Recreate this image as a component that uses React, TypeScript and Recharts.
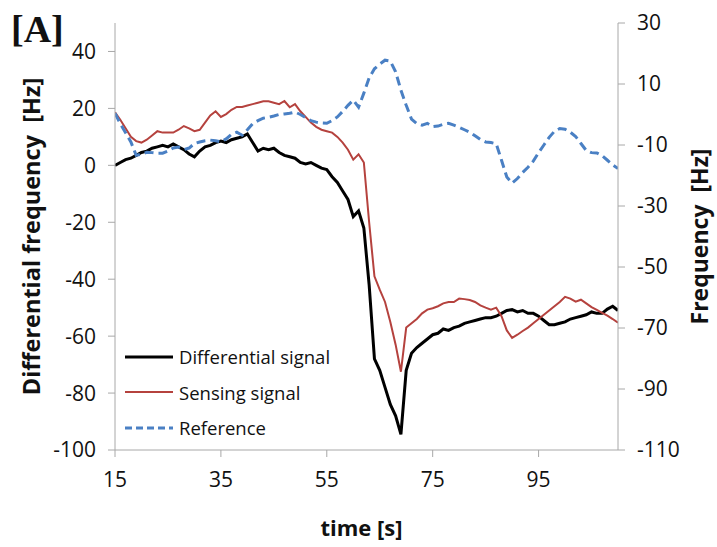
import React from "react";
import { LineChart, Line, XAxis, YAxis, Legend } from "recharts";

const times = [15,16,17,18,19,20,21,22,23,24,25,26,27,28,29,30,31,32,33,34,35,36,37,38,39,40,41,42,43,44,45,46,47,48,49,50,51,52,53,54,55,56,57,58,59,60,61,62,63,64,65,66,67,68,69,70,71,72,73,74,75,76,77,78,79,80,81,82,83,84,85,86,87,88,89,90,91,92,93,94,95,96,97,98,99,100,101,102,103,104,105,106,107,108,109,110];

const differential = [0,1,2,2.5,3.5,4.5,5,6,6.5,7,6.5,7.5,6.5,5.5,4,3,5,6.5,7,8,8.5,8,9,9.5,10,11,8,5,6,5.5,6,4.5,3.5,3,2.5,1,0.5,1,0,-1,-1.5,-4,-6,-9,-12,-18,-16,-22,-42,-68,-72,-78,-84,-88,-94.5,-72,-66,-64,-62.5,-61,-59.5,-59,-57.5,-58,-57,-56.5,-55.5,-55,-54.5,-54,-53.5,-53.5,-53,-52,-51,-50.7,-51.5,-51,-52,-52,-53,-54.5,-56,-56,-55.5,-55,-54,-53.5,-53,-52.5,-51.5,-52,-52,-50.5,-49.5,-51];

const sensing = [18.6,16,13,10,8.5,8,9,10.5,12,11.5,11.5,11.5,12.5,13.8,13,12,12.5,15,17.5,19,17,18,19.5,20.5,20.5,21,21.5,22,22.5,22.5,22,21.5,22.6,20.4,21.5,19,17,15,13.5,12.5,12,11.5,10,8,5.5,2,3.9,1,-20,-39,-43.7,-48,-55,-63,-72.5,-57,-55.5,-54,-52,-50.7,-50.2,-49.5,-48.5,-48,-48,-46.8,-47,-47.3,-48,-49.2,-50,-50.7,-50,-53,-58,-60.6,-59.5,-58.2,-57,-55.5,-54,-52.5,-51,-49.5,-48,-46.2,-46.8,-47.9,-47.2,-48.5,-49.8,-50.8,-51.8,-52.8,-54,-55.3];

const reference = [0.4,-3,-6,-9,-13.4,-13,-12.4,-12.5,-12.7,-12.7,-12,-11,-10.7,-11.5,-11,-9.5,-9,-8.6,-8.4,-8.6,-9,-8,-6.5,-5.8,-6.8,-5,-3,-2,-1.2,-0.9,-0.5,0,0.2,0.4,0.8,0,-1,-2,-2.5,-2.8,-2.9,-2,-0.8,1,3,4.7,2.4,7,12,15,16.5,17.8,17.5,14,8,3,-1.5,-3,-3.5,-2.9,-4,-3.8,-3.2,-2.9,-3.5,-4.2,-5,-5.8,-7,-8.2,-9,-9.2,-9.6,-15,-20.5,-22.5,-21,-19,-17.3,-15.3,-12.5,-10,-7.5,-5.5,-4.6,-4.8,-5.8,-7.2,-9.5,-11.8,-12.5,-12.6,-13.5,-15,-16.5,-17.7];

const xTicks = [15, 35, 55, 75, 95];
const leftTicks = [-100, -80, -60, -40, -20, 0, 20, 40];
const rightTicks = [-110, -90, -70, -50, -30, -10, 10, 30];

const seriesInfo = [
  { key: "diff", name: "Differential signal", color: "#000000", width: 3, dash: undefined as string | undefined },
  { key: "sens", name: "Sensing signal", color: "#b5423e", width: 2, dash: undefined as string | undefined },
  { key: "ref", name: "Reference", color: "#4a80c4", width: 3, dash: "9 5" },
];

const data = times.map((t, i) => ({
  t,
  diff: differential[i],
  sens: sensing[i],
  ref: reference[i],
}));

const FONT = "'Open Sans', sans-serif";
const AXIS_COLOR = "#a8a8a8";
const tickStyle = { fontFamily: FONT, fontSize: 21, fill: "#111" };

const LegendContent = () => (
  <div style={{ fontFamily: FONT, fontSize: 18.5, color: "#111", textAlign: "left" }}>
    {seriesInfo.map((s) => (
      <div key={s.key} style={{ display: "flex", alignItems: "center", height: 35.5 }}>
        <svg width={54} height={10}>
          <line x1={0} y1={5} x2={48} y2={5} stroke={s.color} strokeWidth={s.key === "sens" ? 2 : 3} strokeDasharray={s.dash ? "7 4" : undefined} />
        </svg>
        <span style={{ whiteSpace: "nowrap" }}>{s.name}</span>
      </div>
    ))}
  </div>
);

export default function App() {
  return (
    <div style={{ position: "absolute", left: 0, top: 0, width: 717, height: 547, background: "#fff" }}>
      <div
        style={{
          position: "absolute",
          left: 11,
          top: 10,
          fontFamily: "'Liberation Serif', serif",
          fontWeight: "bold",
          fontSize: 38,
          lineHeight: "38px",
          color: "#111",
          zIndex: 2,
        }}
      >
        [A]
      </div>
      <LineChart width={717} height={547} data={data} margin={{ top: 23, right: 0, bottom: 0, left: 0 }}>
        <XAxis
          dataKey="t"
          type="number"
          domain={[15, 110]}
          ticks={xTicks}
          allowDataOverflow
          height={97}
          stroke={AXIS_COLOR}
          tickSize={7}
          tickMargin={15}
          tick={tickStyle}
          label={({ viewBox }: any) => (
            <text
              x={viewBox.x + viewBox.width / 2 - 5}
              y={viewBox.y + 78}
              dy="0.35em"
              textAnchor="middle"
              style={{ fontFamily: FONT, fontSize: 22, fontWeight: "bold", fill: "#111" }}
            >
              time [s]
            </text>
          )}
        />
        <YAxis
          yAxisId="left"
          domain={[-100, 50]}
          ticks={leftTicks}
          width={115}
          stroke={AXIS_COLOR}
          tickSize={7}
          tickMargin={12}
          tick={tickStyle}
          label={({ viewBox }: any) => {
            const cx = viewBox.x + 32;
            const cy = viewBox.y + viewBox.height / 2;
            return (
              <text
                x={cx}
                y={cy}
                dy="0.35em"
                textAnchor="middle"
                transform={`rotate(-90 ${cx} ${cy})`}
                style={{ fontFamily: FONT, fontSize: 23.5, fontWeight: "bold", fill: "#111" }}
              >
                {"Differential frequency\u00a0\u00a0[Hz]"}
              </text>
            );
          }}
        />
        <YAxis
          yAxisId="right"
          orientation="right"
          domain={[-110, 30]}
          ticks={rightTicks}
          width={99}
          stroke={AXIS_COLOR}
          tickSize={7}
          tickMargin={12}
          tick={tickStyle}
          label={({ viewBox }: any) => {
            const cx = viewBox.x + 82;
            const cy = viewBox.y + viewBox.height / 2;
            return (
              <text
                x={cx}
                y={cy}
                dy="0.35em"
                textAnchor="middle"
                transform={`rotate(-90 ${cx} ${cy})`}
                style={{ fontFamily: FONT, fontSize: 23, fontWeight: "bold", fill: "#111" }}
              >
                {"Frequency\u00a0\u00a0[Hz]"}
              </text>
            );
          }}
        />
        <Legend
          layout="vertical"
          align="center"
          verticalAlign="middle"
          content={<LegendContent />}
          wrapperStyle={{ position: "absolute", left: 125, top: 339, width: 230, height: 110, bottom: "auto", right: "auto", margin: 0 }}
        />
        <Line yAxisId="left" type="linear" dataKey="diff" name="Differential signal" stroke="#000000" strokeWidth={3} dot={false} isAnimationActive={false} />
        <Line yAxisId="left" type="linear" dataKey="sens" name="Sensing signal" stroke="#b5423e" strokeWidth={2} dot={false} isAnimationActive={false} />
        <Line yAxisId="right" type="linear" dataKey="ref" name="Reference" stroke="#4a80c4" strokeWidth={3} strokeDasharray="9 5" dot={false} isAnimationActive={false} />
      </LineChart>
    </div>
  );
}
